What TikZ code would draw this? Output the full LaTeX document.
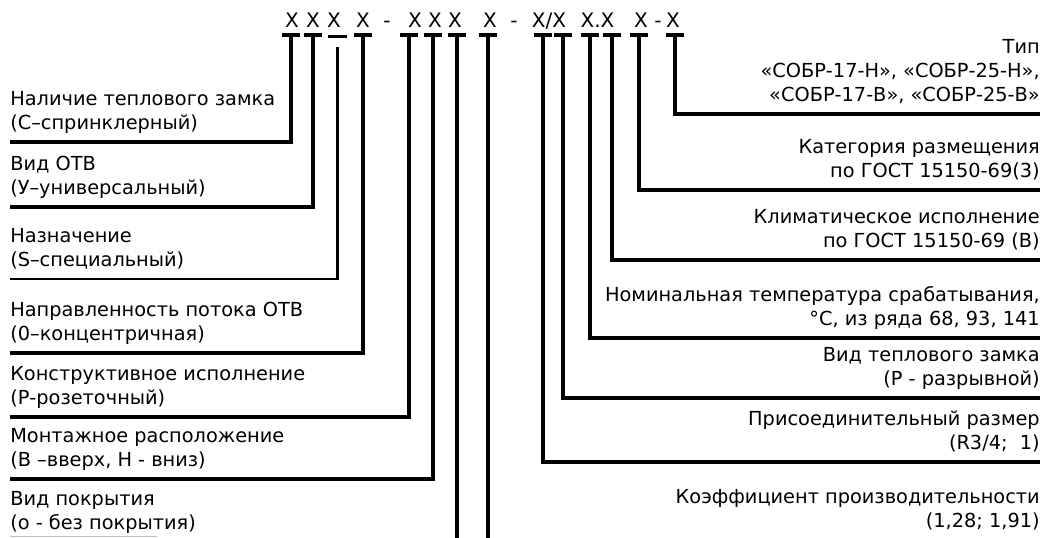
\documentclass[tikz,border=0pt]{standalone}
\usepackage{fontspec}
\setmainfont{DejaVu Sans}
\usetikzlibrary{positioning}

\tikzset{
  lead/.style={line width=2.5pt},
  tbar/.style={fill=black, inner sep=0pt, minimum width=13.5pt, minimum height=3pt},
  tsmall/.style={fill=black, inner sep=0pt, minimum width=14pt, minimum height=2.2pt},
  code/.style={anchor=base, inner sep=0pt, font=\fontsize{15}{18}\selectfont},
  lbl/.style={anchor=south west, align=left, inner sep=0pt, text depth=0pt, font=\fontsize{14.5}{18}\selectfont},
  rbl/.style={anchor=south east, align=right, inner sep=0pt, text depth=0pt, font=\fontsize{14.5}{18}\selectfont}
}

\begin{document}
\begin{tikzpicture}[x=0.75pt,y=0.75pt,yscale=-1,xscale=1]
    \useasboundingbox (0,0) rectangle (1046,538);

    % Code line
    \node[code] (h1) at (292,28) {X};
    \node[code] (h2) at (313,28) {X};
    \node[code] (h3) at (334,28) {X};
    \node[code] (h4) at (363,28) {X};
    \node[code] (s1) at (387,28) {-};
    \node[code] (h5) at (415,28) {X};
    \node[code] (h6) at (435,28) {X};
    \node[code] (h7) at (455,28) {X};
    \node[code] (h8) at (490,28) {X};
    \node[code] (s2) at (514,28) {-};
    \node[code] (h9) at (549,28) {X/X};
    \node[code] (h10) at (597.5,28) {X.X};
    \node[code] (h11) at (641,28) {X};
    \node[code] (s3) at (658,28) {-};
    \node[code] (h12) at (673,28) {X};

    % T-bars
    \node[tbar] (t1) at (291,35) {};
    \node[tbar] (t2) at (313,35) {};
    \node[tsmall] (t3) at (337.5,36.5) {};
    \node[tbar] (t4) at (363,35) {};
    \node[tbar] (t5) at (409,35) {};
    \node[tbar] (t6) at (433,35) {};
    \node[tbar] (t7) at (457,35) {};
    \node[tbar] (t8) at (488,35) {};
    \node[tbar] (t9) at (543,35) {};
    \node[tbar] (t10) at (563,35) {};
    \node[tbar] (t11) at (590,35) {};
    \node[tbar] (t12) at (612,35) {};
    \node[tbar] (t13) at (639,35) {};
    \node[tbar] (t14) at (675,35) {};

    % Text Node -- left
    \node[lbl] (l1) at (10,130) {Наличие теплового замка\\(С–спринклерный)};
    \node[lbl] (l2) at (10,195) {Вид ОТВ\\(У–универсальный)};
    \node[lbl] (l3) at (10,267) {Назначение\\(S–специальный)};
    \node[lbl] (l4) at (10,341) {Направленность потока ОТВ\\(0–концентричная)};
    \node[lbl] (l5) at (10,405) {Конструктивное исполнение\\(Р-розеточный)};
    \node[lbl] (l6) at (10,467) {Монтажное расположение\\(В –вверх, Н - вниз)};
    \node[lbl] (l7) at (10,530) {Вид покрытия\\(о - без покрытия)};

    % Text Node -- right
    \node[rbl] (r1) at (1040,102) {Тип\\«СОБР-17-Н», «СОБР-25-Н»,\\«СОБР-17-В», «СОБР-25-В»};
    \node[rbl] (r2) at (1040,178) {Категория размещения\\по ГОСТ 15150-69(3)};
    \node[rbl] (r3) at (1040,248) {Климатическое исполнение\\по ГОСТ 15150-69 (В)};
    \node[rbl] (r4) at (1040,326) {Номинальная температура срабатывания,\\°С, из ряда 68, 93, 141};
    \node[rbl] (r5) at (1040,386) {Вид теплового замка\\(Р - разрывной)};
    \node[rbl] (r6) at (1040,450) {Присоединительный размер\\(R3/4;~~1)};
    \node[rbl] (r7) at (1040,528) {Коэффициент производительности\\(1,28; 1,91)};

    %Straight Lines -- left leaders
    \draw[lead] (t1.center) |- ([yshift=9pt]l1.south west);
    \draw[lead] (t2.center) |- ([yshift=9pt]l2.south west);
    \draw[line width=2.2pt] ([yshift=8pt]t3.center) |- ([yshift=9pt]l3.south west);
    \draw[lead] (t4.center) |- ([yshift=9pt]l4.south west);
    \draw[lead] (t5.center) |- ([yshift=9pt]l5.south west);
    \draw[lead] (t6.center) |- ([yshift=9pt]l6.south west);
    \draw[lead] (t7.center) -- ++(0,510);
    \draw[lead] (t8.center) -- ++(0,510);
    \draw[gray!50, line width=0.75pt] ([yshift=5pt]l7.south west) -- ++(147,0);

    %Straight Lines -- right leaders
    \draw[lead] (t14.center) |- ([yshift=9pt]r1.south east);
    \draw[lead] (t13.center) |- ([yshift=9pt]r2.south east);
    \draw[lead] (t12.center) |- ([yshift=9pt]r3.south east);
    \draw[lead] (t11.center) |- ([yshift=9pt]r4.south east);
    \draw[lead] (t10.center) |- ([yshift=9pt]r5.south east);
    \draw[lead] (t9.center) |- ([yshift=9pt]r6.south east);

\end{tikzpicture}
\end{document}
